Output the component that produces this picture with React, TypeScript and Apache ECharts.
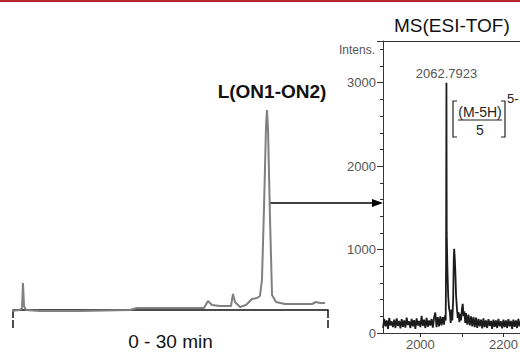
import React, { useEffect, useRef } from "react";
import * as echarts from "echarts";

// HPLC chromatogram (time in min, relative signal)
const chromTime = [-0.3, 0.67, 0.86, 0.95, 1.05, 1.24, 2.57, 6.38, 11.14, 11.8, 15.9, 18.19, 18.57, 18.95, 19.71, 20.76, 20.95, 21.14, 21.62, 22.19, 22.76, 23.24, 23.52, 23.71, 23.9, 24.1, 24.19, 24.29, 24.48, 24.67, 25.05, 25.9, 27.33, 28.48, 28.86, 29.24, 29.71];
const chromSignal = [-1, 0, 2, 27, 4, 0, -1, -1, 0, 2, 2, 2, 9, 5, 4, 4, 16, 8, 3, 5, 11, 12, 14, 30, 100, 185, 200, 180, 90, 15, 8, 6, 6, 6, 8, 7, 7];

// MS spectrum (m/z, intensity)
const msMz = [
  1910, 1913, 1916, 1919, 1922, 1925, 1928, 1931, 1934, 1937, 1940, 1943, 1946, 1949, 1952, 1955, 1958, 1961, 1964, 1967,
  1970, 1973, 1976, 1979, 1982, 1985, 1988, 1991, 1994, 1997, 2000, 2003, 2006, 2009, 2012, 2015, 2018, 2021, 2024, 2027,
  2030, 2033, 2036, 2039, 2042, 2045, 2048, 2051, 2054, 2057, 2059, 2061, 2062, 2062.8, 2063.5, 2064.4, 2065.5, 2067, 2069, 2071,
  2073, 2075, 2077, 2079, 2080.5, 2081.5, 2083, 2084.5, 2086, 2088, 2090, 2092, 2094, 2096, 2098, 2100, 2102, 2104, 2106, 2108,
  2110, 2113, 2116, 2119, 2122, 2125, 2128, 2131, 2134, 2137, 2140, 2143, 2146, 2149, 2152, 2155, 2158, 2161, 2164, 2167,
  2170, 2173, 2176, 2179, 2182, 2185, 2188, 2191, 2194, 2197, 2200, 2203, 2206, 2209, 2212, 2215, 2218, 2221, 2224, 2227,
  2230, 2233, 2236, 2239, 2240,
];
const msIntensity = [
  60, 170, 80, 150, 50, 180, 90, 140, 70, 160, 60, 175, 85, 145, 55, 165, 75, 150, 65, 185,
  95, 140, 60, 170, 80, 155, 50, 175, 90, 145, 70, 205, 85, 160, 60, 180, 75, 150, 90, 170,
  65, 185, 245, 70, 190, 80, 200, 90, 190, 100, 210, 150, 900, 3000, 1200, 960, 700, 450, 300, 250,
  120, 280, 150, 400, 900, 1010, 880, 700, 450, 300, 180, 250, 130, 230, 150, 280, 350, 200, 260, 120,
  240, 100, 220, 90, 200, 80, 190, 70, 185, 60, 170, 80, 160, 55, 175, 70, 150, 60, 165, 85,
  145, 50, 160, 75, 150, 60, 170, 80, 140, 55, 160, 70, 150, 60, 165, 80, 145, 50, 160, 75,
  150, 60, 170, 80, 140,
];
const msPeakLabel = "2062.7923";
const msXLabels = [2000, 2200];
const msXTicks = [2000, 2100, 2200];

const FONT = "Liberation Sans, Arial, sans-serif";

export default function App() {
  const ref = useRef<HTMLDivElement>(null);
  useEffect(() => {
    document.body.style.margin = "0";
    if (!ref.current) return;
    const chart = echarts.init(ref.current, null, { renderer: "svg" });

    const peakIdx = msIntensity.indexOf(Math.max(...msIntensity));
    const msData = msMz.map((x, i) => [x, msIntensity[i]]);
    const chromData = chromTime.map((t, i) => [t, chromSignal[i]]);
    const plain = (v: number) => String(v);

    chart.setOption({
      animation: false,
      title: {
        text: "MS(ESI-TOF)",
        left: 389,
        top: 11,
        textStyle: { fontSize: 19, fontWeight: "normal", color: "#111", fontFamily: FONT },
      },
      grid: [
        { left: 13, top: 100, width: 315, height: 228, outerBoundsMode: "none", containLabel: false },
        { left: 383, top: 41, width: 137, height: 292, outerBoundsMode: "none", containLabel: false },
      ],
      xAxis: [
        {
          gridIndex: 0,
          type: "value",
          min: 0,
          max: 30,
          interval: 30,
          position: "bottom",
          axisLine: { show: true, lineStyle: { color: "#111", width: 1.5 } },
          axisTick: { show: true, length: 8, inside: false, lineStyle: { color: "#111", width: 1.5 } },
          axisLabel: { show: false },
          splitLine: { show: false },
          name: "0 - 30 min",
          nameLocation: "middle",
          nameGap: 4,
          nameTextStyle: { fontSize: 19, color: "#111", fontFamily: FONT },
        },
        {
          gridIndex: 0,
          type: "value",
          min: 0,
          max: 30,
          interval: 30,
          position: "bottom",
          axisLine: { show: false },
          axisTick: { show: true, length: 8, inside: true, lineStyle: { color: "#111", width: 1.5 } },
          axisLabel: { show: false },
          splitLine: { show: false },
        },
        {
          gridIndex: 1,
          type: "value",
          min: 1910,
          max: 2240,
          position: "bottom",
          axisLine: { show: true, lineStyle: { color: "#333", width: 1 } },
          axisTick: { show: true, length: 4, customValues: msXTicks, lineStyle: { color: "#333" } },
          axisLabel: {
            show: true,
            customValues: msXLabels,
            formatter: plain,
            color: "#555",
            fontSize: 13,
            fontFamily: FONT,
            margin: 5,
          },
          splitLine: { show: false },
        },
        {
          gridIndex: 1,
          type: "value",
          min: 1910,
          max: 2240,
          position: "top",
          axisLine: { show: true, lineStyle: { color: "#333", width: 1 } },
          axisTick: { show: false },
          axisLabel: { show: false },
          splitLine: { show: false },
        },
      ],
      yAxis: [
        { gridIndex: 0, type: "value", min: -18, max: 210, show: false },
        {
          gridIndex: 1,
          type: "value",
          min: 0,
          max: 3500,
          interval: 1000,
          axisLine: { show: true, lineStyle: { color: "#333", width: 1 } },
          axisTick: { show: true, length: 6, lineStyle: { color: "#333" } },
          minorTick: { show: true, splitNumber: 5, length: 3, lineStyle: { color: "#333" } },
          axisLabel: { formatter: plain, color: "#555", fontSize: 13, fontFamily: FONT, margin: 7, showMaxLabel: false },
          splitLine: { show: false },
          name: "Intens.",
          nameLocation: "end",
          nameGap: -15,
          nameTextStyle: { align: "right", padding: [0, 8, 0, 0], color: "#555", fontSize: 12, fontFamily: FONT },
        },
      ],
      series: [
        {
          type: "line",
          xAxisIndex: 0,
          yAxisIndex: 0,
          data: chromData,
          showSymbol: false,
          clip: false,
          lineStyle: { color: "#808080", width: 2 },
        },
        {
          type: "line",
          xAxisIndex: 2,
          yAxisIndex: 1,
          data: msData,
          showSymbol: false,
          lineStyle: { color: "#1c1c1c", width: 1.8 },
          markPoint: {
            symbol: "circle",
            symbolSize: 0,
            data: [
              {
                coord: [msMz[peakIdx], msIntensity[peakIdx]],
                label: {
                  show: true,
                  position: "top",
                  distance: 3,
                  formatter: msPeakLabel,
                  color: "#555",
                  fontSize: 13,
                  fontFamily: FONT,
                },
              },
            ],
          },
        },
      ],
      graphic: [
        { type: "rect", shape: { x: 0, y: 0, width: 520, height: 2 }, style: { fill: "#b5262b" } },
        {
          type: "text",
          x: 272,
          y: 91,
          style: {
            text: "L(ON1-ON2)",
            fontSize: 19,
            fontWeight: "bold",
            fill: "#111",
            fontFamily: FONT,
            align: "center",
            verticalAlign: "middle",
          },
        },
        { type: "line", shape: { x1: 270, y1: 203, x2: 374, y2: 203 }, style: { stroke: "#000", lineWidth: 1.5 } },
        { type: "polygon", shape: { points: [[383, 203], [372, 199], [372, 207]] }, style: { fill: "#000" } },
        {
          type: "polyline",
          shape: { points: [[457, 101], [453, 101], [453, 137], [457, 137]] },
          style: { stroke: "#222", lineWidth: 1.2, fill: null },
        },
        {
          type: "polyline",
          shape: { points: [[501, 101], [505, 101], [505, 137], [501, 137]] },
          style: { stroke: "#222", lineWidth: 1.2, fill: null },
        },
        {
          type: "text",
          x: 480,
          y: 112,
          style: { text: "(M-5H)", fontSize: 14, fill: "#222", fontFamily: FONT, align: "center", verticalAlign: "middle" },
        },
        { type: "line", shape: { x1: 458, y1: 120, x2: 502, y2: 120 }, style: { stroke: "#222", lineWidth: 1.2 } },
        {
          type: "text",
          x: 480,
          y: 130,
          style: { text: "5", fontSize: 14, fill: "#222", fontFamily: FONT, align: "center", verticalAlign: "middle" },
        },
        {
          type: "text",
          x: 507,
          y: 98,
          style: { text: "5-", fontSize: 13, fill: "#222", fontFamily: FONT, align: "left", verticalAlign: "middle" },
        },
      ],
    });
    return () => chart.dispose();
  }, []);
  return (
    <div
      ref={ref}
      style={{ width: 520, height: 352, position: "absolute", left: 0, top: 0, background: "#fff" }}
    />
  );
}
